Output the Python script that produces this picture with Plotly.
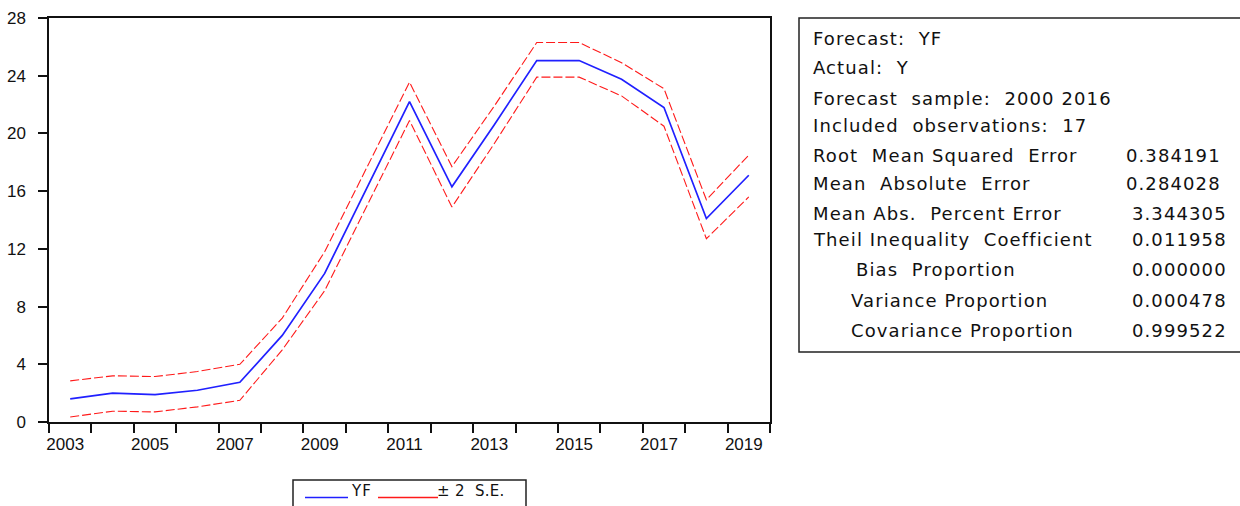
import plotly.graph_objects as go

# Forecast series and its +/- 2 standard-error band
years = list(range(2003, 2020))
yf = [1.6, 2.0, 1.9, 2.2, 2.75, 6.0, 10.3, 16.2, 22.2, 16.3, 20.6, 25.05, 25.05, 23.75, 21.8, 14.1, 17.1]
upper = [2.85, 3.2, 3.15, 3.5, 4.0, 7.2, 11.8, 17.7, 23.55, 17.7, 21.9, 26.3, 26.3, 24.9, 23.1, 15.4, 18.5]
lower = [0.35, 0.75, 0.7, 1.05, 1.5, 5.0, 9.1, 15.0, 20.9, 14.9, 19.3, 23.9, 23.9, 22.6, 20.5, 12.7, 15.6]

y_ticks = [0, 4, 8, 12, 16, 20, 24, 28]
x_labels = [2003, 2005, 2007, 2009, 2011, 2013, 2015, 2017, 2019]

# Forecast evaluation statistics
stat_labels = [
    "Forecast:  YF",
    "Actual:  Y",
    "Forecast  sample:  2000 2016",
    "Included  observations:  17",
    "Root  Mean Squared  Error",
    "Mean  Absolute  Error",
    "Mean Abs.  Percent Error",
    "Theil Inequality  Coefficient",
    "Bias  Proportion",
    "Variance Proportion",
    "Covariance Proportion",
]
stat_values = ["", "", "", "", "0.384191", "0.284028", "3.344305", "0.011958",
               "0.000000", "0.000478", "0.999522"]
stat_indent = [0, 0, 0, 0, 0, 0, 0, 0, 43, 38, 38]

W, H = 1240, 506
FONT = "Liberation Sans, Arial, sans-serif"
TEXT_FONT = "DejaVu Sans, Verdana, sans-serif"


def px(x):
    return x / W


def py(y):
    return 1 - y / H


def spaced(text, ls=1.1):
    text = text.replace("  ", "&nbsp; ")
    return f'<span style="letter-spacing:{ls}px">{text}</span>'


fig = go.Figure()
fig.add_trace(go.Scatter(x=years, y=upper, mode="lines",
                         line=dict(color="#ff1a1a", width=1.1, dash="9px,3px"),
                         showlegend=False, hoverinfo="skip"))
fig.add_trace(go.Scatter(x=years, y=lower, mode="lines",
                         line=dict(color="#ff1a1a", width=1.1, dash="9px,3px"),
                         showlegend=False, hoverinfo="skip"))
fig.add_trace(go.Scatter(x=years, y=yf, mode="lines",
                         line=dict(color="#2020ff", width=1.7),
                         showlegend=False, hoverinfo="skip"))

fig.update_layout(
    width=W, height=H,
    margin=dict(l=0, r=0, t=0, b=0, pad=0),
    paper_bgcolor="white", plot_bgcolor="white",
    font=dict(family=FONT, color="#111111"),
    xaxis=dict(
        domain=[px(49), px(770)],
        range=[years[0] - 0.5, years[-1] + 0.5],
        tickvals=x_labels, ticktext=[str(v) for v in x_labels],
        ticks="", showgrid=False, zeroline=False, automargin=False,
        showline=True, linecolor="#111111", linewidth=1.5, mirror=True,
        tickfont=dict(size=17, family=FONT),
        ticklabelshift=-5, ticklabelstandoff=6,
        minor=dict(tick0=years[0] - 0.5, dtick=1, ticks="outside",
                   ticklen=9, tickwidth=1.5, tickcolor="#111111", showgrid=False),
    ),
    yaxis=dict(
        domain=[py(422), py(18)],
        range=[0, 28], tickvals=y_ticks,
        ticks="outside", ticklen=9, tickwidth=1.5, tickcolor="#111111",
        showgrid=False, zeroline=False, automargin=False,
        showline=True, linecolor="#111111", linewidth=1.5, mirror=True,
        tickfont=dict(size=17, family=FONT),
        ticklabelstandoff=9,
    ),
)

shapes = []
annotations = []

# Statistics box
shapes.append(dict(type="rect", xref="paper", yref="paper",
                   x0=px(799), x1=px(1250), y0=py(352), y1=py(18),
                   line=dict(color="#222222", width=1.5), fillcolor="rgba(0,0,0,0)"))
row_y = [38, 67, 98, 125, 155, 183, 213, 240, 269, 300, 330]
value_right = [1229, 1229, 1229, 1229, 1223, 1223, 1229, 1229, 1229, 1229, 1229]
for lab, val, ind, yy, xr in zip(stat_labels, stat_values, stat_indent, row_y, value_right):
    annotations.append(dict(xref="paper", yref="paper", x=px(811 + ind), y=py(yy),
                            xanchor="left", yanchor="middle", showarrow=False,
                            text=spaced(lab), font=dict(size=18, family=TEXT_FONT, color="#111111")))
    if val:
        annotations.append(dict(xref="paper", yref="paper", x=px(xr), y=py(yy),
                                xanchor="right", yanchor="middle", showarrow=False,
                                text=spaced(val), font=dict(size=18, family=TEXT_FONT, color="#111111")))

# Legend box
shapes.append(dict(type="rect", xref="paper", yref="paper",
                   x0=px(293), x1=px(526), y0=py(515), y1=py(480),
                   line=dict(color="#222222", width=1.5), fillcolor="rgba(0,0,0,0)"))
shapes.append(dict(type="line", xref="paper", yref="paper",
                   x0=px(305), x1=px(348), y0=py(497.5), y1=py(497.5),
                   line=dict(color="#2020ff", width=1.7)))
shapes.append(dict(type="line", xref="paper", yref="paper",
                   x0=px(378), x1=px(438), y0=py(497.5), y1=py(497.5),
                   line=dict(color="#ff1a1a", width=1.7)))
annotations.append(dict(xref="paper", yref="paper", x=px(349), y=py(491),
                        xanchor="left", yanchor="middle", showarrow=False,
                        text=spaced("YF", 1.2), font=dict(size=15, family=TEXT_FONT, color="#111111")))
annotations.append(dict(xref="paper", yref="paper", x=px(435), y=py(491),
                        xanchor="left", yanchor="middle", showarrow=False,
                        text=spaced("± 2  S.E.", 0.3), font=dict(size=15, family=TEXT_FONT, color="#111111")))

fig.update_layout(shapes=shapes, annotations=annotations)
fig.write_html("out.html")
